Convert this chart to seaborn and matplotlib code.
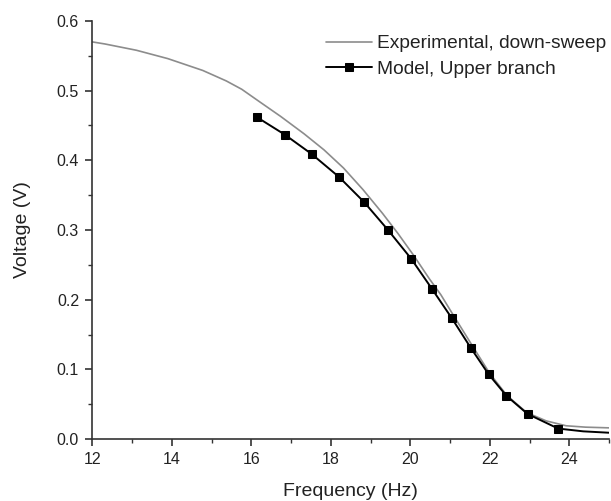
import matplotlib
matplotlib.use("Agg")
import matplotlib.pyplot as plt
import seaborn as sns
import numpy as np
from matplotlib.ticker import MultipleLocator

# Experimental, down-sweep (grey curve)
exp_freq = [12.00, 12.32, 13.11, 13.90, 14.78, 15.37, 15.76, 16.16, 16.74, 17.33,
            17.83, 18.32, 18.81, 19.30, 19.69, 20.08, 20.48, 20.77, 21.07, 21.56,
            22.00, 22.44, 22.93, 23.42, 23.92, 24.41, 25.00]
exp_volt = [0.570, 0.567, 0.558, 0.546, 0.529, 0.514, 0.502, 0.486, 0.463, 0.438,
            0.415, 0.389, 0.358, 0.324, 0.295, 0.264, 0.230, 0.207, 0.179, 0.134,
            0.094, 0.062, 0.038, 0.026, 0.019, 0.017, 0.016]

# Model, Upper branch (black curve with squares; tail without markers)
model_freq = [16.14, 16.84, 17.52, 18.21, 18.84, 19.44, 20.02, 20.54, 21.05, 21.52,
              21.97, 22.42, 22.95, 23.72, 24.35, 25.00]
model_volt = [0.462, 0.437, 0.409, 0.376, 0.340, 0.300, 0.259, 0.216, 0.173, 0.131,
              0.093, 0.062, 0.036, 0.015, 0.011, 0.009]
n_markers = 14

x_ticks = [12, 14, 16, 18, 20, 22, 24]
y_ticks = [0.0, 0.1, 0.2, 0.3, 0.4, 0.5, 0.6]

sns.set_style("ticks")
plt.rcParams['font.family'] = ['Liberation Sans', 'DejaVu Sans']

fig = plt.figure(figsize=(6.11, 5.01), dpi=100)
ax = fig.add_axes([92.3/611, 1-439/501, (609-92.3)/611, (439-21)/501])

sns.lineplot(x=exp_freq, y=exp_volt, ax=ax, color="#8c8c8c", linewidth=1.2,
             label="Experimental, down-sweep", errorbar=None)
sns.lineplot(x=model_freq, y=model_volt, ax=ax, color="black", linewidth=1.4,
             marker="s", markersize=5.3, markeredgecolor="black",
             markevery=list(range(n_markers)),
             label="Model, Upper branch", errorbar=None)

ax.set_xlim(12, 25)
ax.set_ylim(0, 0.6)
ax.set_xticks(x_ticks)
ax.set_yticks(y_ticks)
ax.set_yticklabels([f"{v:.1f}" for v in y_ticks])
ax.xaxis.set_minor_locator(MultipleLocator(1))
ax.yaxis.set_minor_locator(MultipleLocator(0.05))
sns.despine(ax=ax)
for s in ("left", "bottom"):
    ax.spines[s].set_linewidth(1.2)
    ax.spines[s].set_color("#333333")
ax.tick_params(which="major", length=5, width=1.2, color="#333333",
               labelsize=11.5, labelcolor="#222222", pad=4.5)
ax.tick_params(which="minor", length=3, width=1.0, color="#333333")

ax.set_xlabel("Frequency (Hz)", fontsize=14, color="#222222", labelpad=11.5)
ax.set_ylabel("Voltage (V)", fontsize=14, color="#222222", labelpad=18.5)

leg = ax.legend(loc="upper left", bbox_to_anchor=(326/611, 1-35/501),
                bbox_transform=fig.transFigure, frameon=False, fontsize=13.8,
                handlelength=2.4, handletextpad=0.25, labelspacing=0.4,
                borderpad=0, borderaxespad=0)
for t in leg.get_texts():
    t.set_color("#222222")

fig.savefig("out.png", dpi=100)
